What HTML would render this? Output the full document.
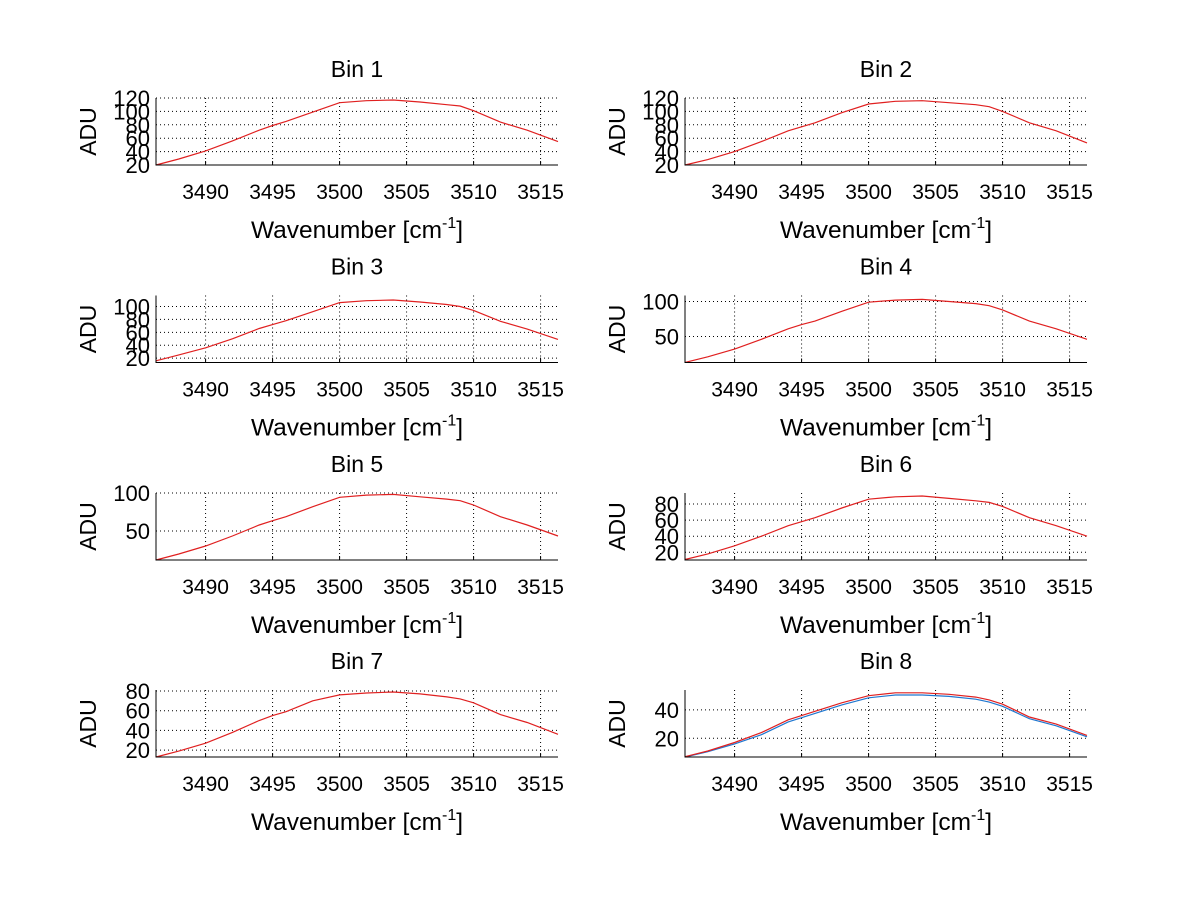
<!DOCTYPE html>
<html><head><meta charset="utf-8"><style>
html,body{margin:0;padding:0;background:#fff;}
svg{display:block;font-family:"Liberation Sans",Arial,sans-serif;}
</style></head><body>
<svg id="fig" width="1200" height="901" viewBox="0 0 1200 901" xmlns="http://www.w3.org/2000/svg"></svg>
<script>
// Shared sample wavenumbers
const wavenumbers = [3486.3,3488,3490,3492,3494,3495,3496,3498,3500,3502,3504,3506,3508,3509,3510,3512,3514,3516.3];
const xTicks = [3490,3495,3500,3505,3510,3515];
const binTitles = ["Bin 1","Bin 2","Bin 3","Bin 4","Bin 5","Bin 6","Bin 7","Bin 8"];
const bin1 = [20,29,41,56,72,79,85,99,113,116,117,114,110,108,101,84,72,55];
const bin2 = [20,28,40,55,71,77,83,98,111,115,116,113,110,107,100,83,71,53];
const bin3 = [16,25,36,50,66,72,78,92,106,109,110,107,103,100,94,77,65,49];
const bin4 = [13,21,32,46,61,67,72,86,99,102,103,100,97,94,88,72,61,46];
const bin5 = [11.8,19.7,30.2,43.4,57.9,63.6,68.8,82,94.3,97.3,98.2,95,92,89.9,84.2,68.8,57.9,43.4];
const bin6 = [11,18,28,40,53,58,63,75,86,89,90,87,84,82,77,63,53,40];
const bin7 = [13,19,27,38,50,55,59,70,76,78,79,77,74,72,68,56,48,36];
const bin8 = [7,11,17,24,33,36,39,45,50,52,52,51,49,47,44,35,30,22];
const bin8b = [6.8,10.5,16,22.5,31.5,34.5,37.5,43.5,48.5,50.5,50.5,49.5,47.5,45.5,42.5,33.8,28.8,21];
const yMin = [20,20,13.3,12.9,11.8,10.4,13,6.8];
const yMax = [120,120,117,108.6,100,93.7,81,54];
const yTicks1 = [20,40,60,80,100,120];
const yTicks3 = [20,40,60,80,100];
const yTicks45 = [50,100];
const yTicks6 = [20,40,60,80];
const yTicks7 = [20,40,60,80];
const yTicks8 = [20,40];
const seriesList = [[bin1],[bin2],[bin3],[bin4],[bin5],[bin6],[bin7],[bin8b,bin8]];
const tickList = [yTicks1,yTicks1,yTicks3,yTicks45,yTicks45,yTicks6,yTicks7,yTicks8];
const seriesColors8 = ["#1f77d0","#e02020"];

const NS="http://www.w3.org/2000/svg";
const svg=document.getElementById('fig');
function mk(tag,attrs,parent){const e=document.createElementNS(NS,tag);for(const k in attrs)e.setAttribute(k,attrs[k]);(parent||svg).appendChild(e);return e;}
const X0=[156,685], W=402, TOPS=[98,295.5,493,690], H=67;
const XMIN=3486.3, XMAX=3516.3;

for(let b=0;b<8;b++){
  const col=b%2,row=Math.floor(b/2);
  const x0=X0[col], y0=TOPS[row];
  const g=mk('g',{});
  
  
  const sx=v=>x0+(v-XMIN)/(XMAX-XMIN)*W;
  const sy=v=>y0+H-(v-yMin[b])/(yMax[b]-yMin[b])*H;
  xTicks.forEach(t=>{
    const l=mk('line',{x1:sx(t),x2:sx(t),y1:y0,y2:y0+H,stroke:'#000','stroke-width':1,'stroke-dasharray':'1,3'},g);
    
    
    mk('line',{x1:sx(t),x2:sx(t),y1:y0+H,y2:y0+H-4,stroke:'#000'},g);
    const tx=mk('text',{x:sx(t),y:y0+H+34,'font-size':21,'text-anchor':'middle'},g);
    tx.textContent=t;
    
    
  });
  tickList[b].forEach(t=>{
    if(Math.abs(sy(t)-(y0+H))>1){
      const l=mk('line',{x1:x0,x2:x0+W,y1:sy(t),y2:sy(t),stroke:'#000','stroke-width':1,'stroke-dasharray':'1,3'},g);
      
      
    }
    const ty=mk('text',{x:x0-6,y:sy(t)+8,'font-size':22,'text-anchor':'end'},g);
    ty.textContent=t;
    
    
  });
  seriesList[b].forEach((s,i)=>{
    const pts=s.map((v,j)=>sx(wavenumbers[j]).toFixed(1)+','+sy(v).toFixed(1)).join(' ');
    const color=b===7?seriesColors8[i]:'#e02020';
    const p=mk('polyline',{points:pts,fill:'none',stroke:color,'stroke-width':1.2},g);
    
    
  });
  const ax=mk('path',{d:`M${x0},${y0}V${y0+H}H${x0+W}`,fill:'none',stroke:'#000','stroke-width':1},g);
  
  
  const ti=mk('text',{x:x0+W/2,y:y0-21,'font-size':23,'text-anchor':'middle'},g);
  ti.textContent=binTitles[b];
  
  
  const xl=mk('text',{x:x0+W/2,y:y0+H+73,'font-size':24.5,'text-anchor':'middle'},g);
  xl.innerHTML='Wavenumber [cm<tspan dy="-10" font-size="16">-1</tspan><tspan dy="10">]</tspan>';
  
  
  const yl=mk('text',{x:0,y:0,'font-size':23,'text-anchor':'middle',transform:`translate(${x0-60},${y0+H/2}) rotate(-90)`},g);
  yl.textContent='ADU';
  
  
}
</script>
</body></html>
